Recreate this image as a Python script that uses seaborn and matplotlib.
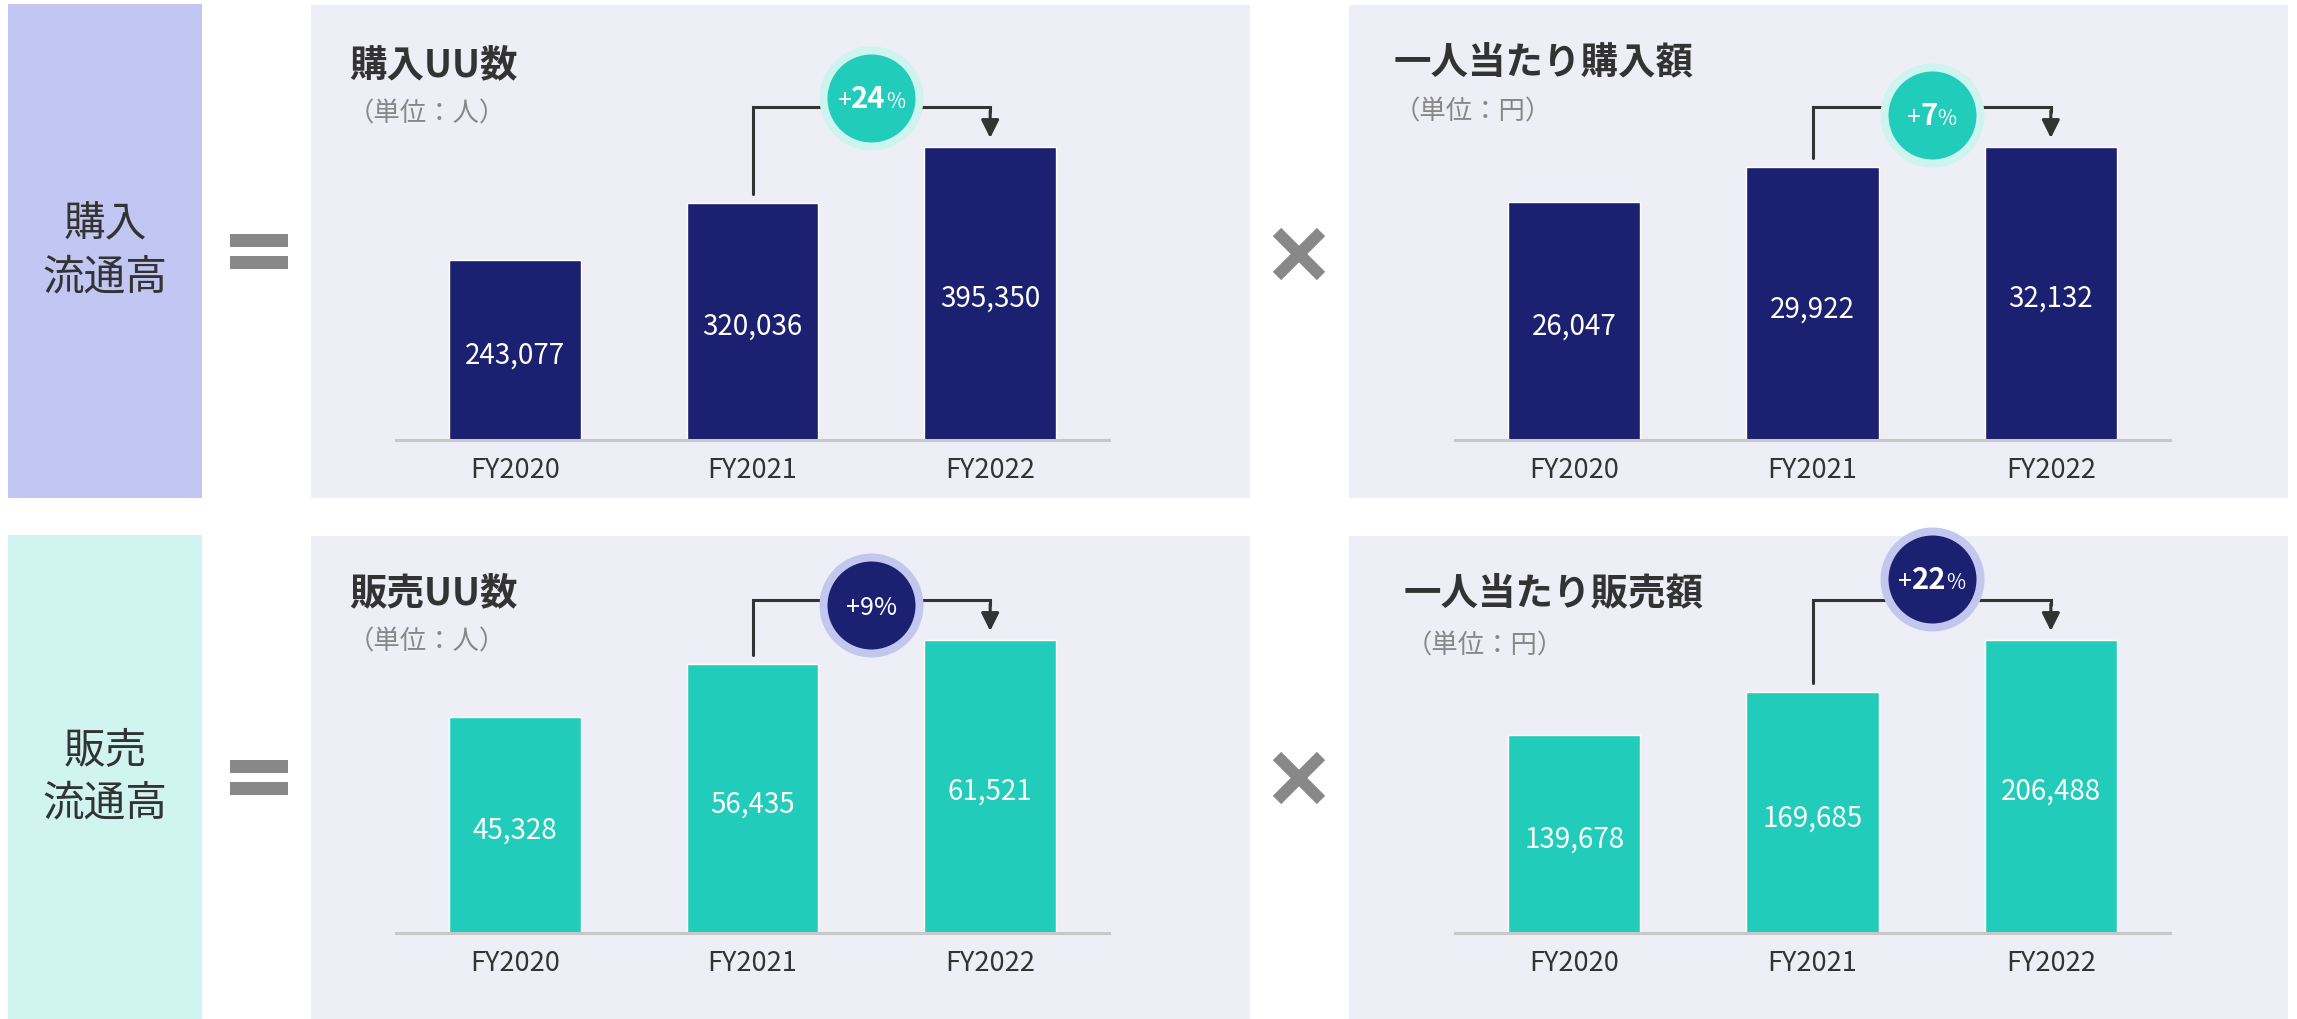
import matplotlib
matplotlib.use("Agg")
import matplotlib.pyplot as plt
from matplotlib.patches import Rectangle
import seaborn as sns
import pandas as pd

# data
years = ["FY2020", "FY2021", "FY2022"]
buy_uu = [243077, 320036, 395350]
buy_per_user = [26047, 29922, 32132]
sell_uu = [45328, 56435, 61521]
sell_per_user = [139678, 169685, 206488]

titles = ["購入UU数", "一人当たり購入額", "販売UU数", "一人当たり販売額"]
units = ["（単位：人）", "（単位：円）", "（単位：人）", "（単位：円）"]
growth = ["+24%", "+7%", "+9%", "+22%"]
row_labels = [["購入", "流通高"], ["販売", "流通高"]]

NAVY = "#1b2070"
TEAL = "#22ccbb"
PANEL_BG = "#eeeef6"
DARK = "#333333"
GRAY = "#888888"

W, H, DPI = 2297, 1019, 100

sns.set_theme(style="white")
plt.rcParams["font.family"] = ["Noto Sans CJK JP", "DejaVu Sans"]

fig = plt.figure(figsize=(W / DPI, H / DPI), dpi=DPI)
fig.patch.set_facecolor("white")

# background layer in pixel coordinates
bg = fig.add_axes([0, 0, 1, 1])
bg.set_xlim(0, W)
bg.set_ylim(H, 0)
bg.axis("off")

# left label boxes
for (y0, y1), color, lines in [((4, 498), "#c2c6f3", row_labels[0]),
                               ((535, 1019), "#d0f5f1", row_labels[1])]:
    bg.add_patch(Rectangle((8, y0), 194, y1 - y0, color=color, lw=0))
    cy = (y0 + y1) / 2
    bg.text(105, cy - 26, lines[0], ha="center", va="center", fontsize=30, color=DARK)
    bg.text(105, cy + 27, lines[1], ha="center", va="center", fontsize=30, color=DARK)
    # "=" sign
    bg.add_patch(Rectangle((230, cy - 17), 58, 13, color=GRAY, lw=0))
    bg.add_patch(Rectangle((230, cy + 5), 58, 13, color=GRAY, lw=0))
    # panels
    bg.add_patch(Rectangle((311, y0 + 1), 939, y1 - y0 - 1, color=PANEL_BG, lw=0))
    bg.add_patch(Rectangle((1349, y0 + 1), 939, y1 - y0 - 1, color=PANEL_BG, lw=0))

# "×" signs
for cy in [254, 778]:
    d = 22
    bg.plot([1299 - d, 1299 + d], [cy - d, cy + d], color=GRAY, lw=8.5, solid_capstyle="butt")
    bg.plot([1299 - d, 1299 + d], [cy + d, cy - d], color=GRAY, lw=8.5, solid_capstyle="butt")

# panel titles
title_pos = [(349, 65, 356, 114), (1394, 62, 1402, 112),
             (349, 593, 356, 642), (1404, 593, 1414, 646)]
for (tx, ty, ux, uy), t, u in zip(title_pos, titles, units):
    bg.text(tx, ty, t, ha="left", va="center", fontsize=27, fontweight="bold", color=DARK)
    bg.text(ux - 8, uy, u, ha="left", va="center", fontsize=19, color=GRAY)

# chart axes: (left px, right px, baseline px), colors, badge style
BAR_PX = 293
charts = [
    (396, 1109, 440, buy_uu, NAVY, TEAL, "#cdf4ef", -9, True),
    (1455, 2170, 440, buy_per_user, NAVY, TEAL, "#cdf4ef", 8, True),
    (396, 1109, 933, sell_uu, TEAL, NAVY, "#c3c7f0", 5, False),
    (1455, 2170, 933, sell_per_user, TEAL, NAVY, "#c3c7f0", -21, True),
]

renderer = fig.canvas.get_renderer()


def badge_text(ax, x, y, label, bold_digits):
    parts = [(label[0], 18, "normal"),
             (label[1:-1], 21 if bold_digits else 18, "bold" if bold_digits else "normal"),
             (label[-1], 15 if bold_digits else 18, "normal")]
    texts, widths = [], []
    for s, size, weight in parts:
        t = ax.annotate(s, xy=(x, y), xycoords="data", xytext=(0, 0),
                        textcoords="offset points", ha="left", va="baseline",
                        fontsize=size, fontweight=weight, color="white", zorder=7)
        widths.append(t.get_window_extent(renderer).width * 72 / DPI)
        texts.append(t)
    cur = -sum(widths) / 2
    for t, w in zip(texts, widths):
        t.xyann = (cur, -7.5)
        cur += w


for i, (x0, x1, base, vals, bar_c, badge_c, halo_c, badge_dy, bold) in enumerate(charts):
    top = base - 390
    ax = fig.add_axes([x0 / W, (H - base) / H, (x1 - x0) / W, (base - top) / H])
    ax.set_facecolor("none")
    df = pd.DataFrame({"year": years, "value": vals})
    sns.barplot(data=df, x="year", y="value", color=bar_c, saturation=1,
                width=0.555, ax=ax, zorder=2)
    vmax = max(vals)
    ax.set_ylim(0, vmax * 390 / BAR_PX)
    ax.set_xlim(-0.5, 2.5)
    for s in ["top", "left", "right"]:
        ax.spines[s].set_visible(False)
    ax.spines["bottom"].set_color("#c8c8c8")
    ax.spines["bottom"].set_linewidth(2.2)
    ax.spines["bottom"].set_zorder(3)
    ax.set_yticks([])
    ax.set_xlabel("")
    ax.set_ylabel("")
    ax.tick_params(axis="x", length=0, pad=12, labelsize=19.5, labelcolor=DARK)

    # value labels inside bars
    for j, v in enumerate(vals):
        ax.annotate(f"{v:,}", xy=(j, v / 2), xytext=(0, -4), textcoords="offset points",
                    ha="center", va="center", fontsize=20, color="white", zorder=4)

    # connector from FY2021 to FY2022
    px = vmax / BAR_PX
    line_y = vmax + 40 * px
    ax.plot([1, 1, 2, 2], [vals[1] + 9 * px, line_y, line_y, line_y - 5 * px],
            color=DARK, lw=2.2, zorder=3, solid_joinstyle="miter")
    ax.annotate("", xy=(2, vals[2] + 9 * px), xytext=(2, line_y - 4 * px),
                arrowprops=dict(arrowstyle="-|>,head_length=0.4,head_width=0.2",
                                mutation_scale=27, color=DARK, lw=2.2,
                                shrinkA=0, shrinkB=0), zorder=3)

    # growth badge
    by = line_y - badge_dy * px
    ax.scatter([1.5], [by], s=5606, color=halo_c, linewidths=0, zorder=5, clip_on=False)
    ax.scatter([1.5], [by], s=4014, color=badge_c, linewidths=0, zorder=6, clip_on=False)
    badge_text(ax, 1.5, by, growth[i], bold)

fig.savefig("out.png", dpi=DPI, facecolor="white")
